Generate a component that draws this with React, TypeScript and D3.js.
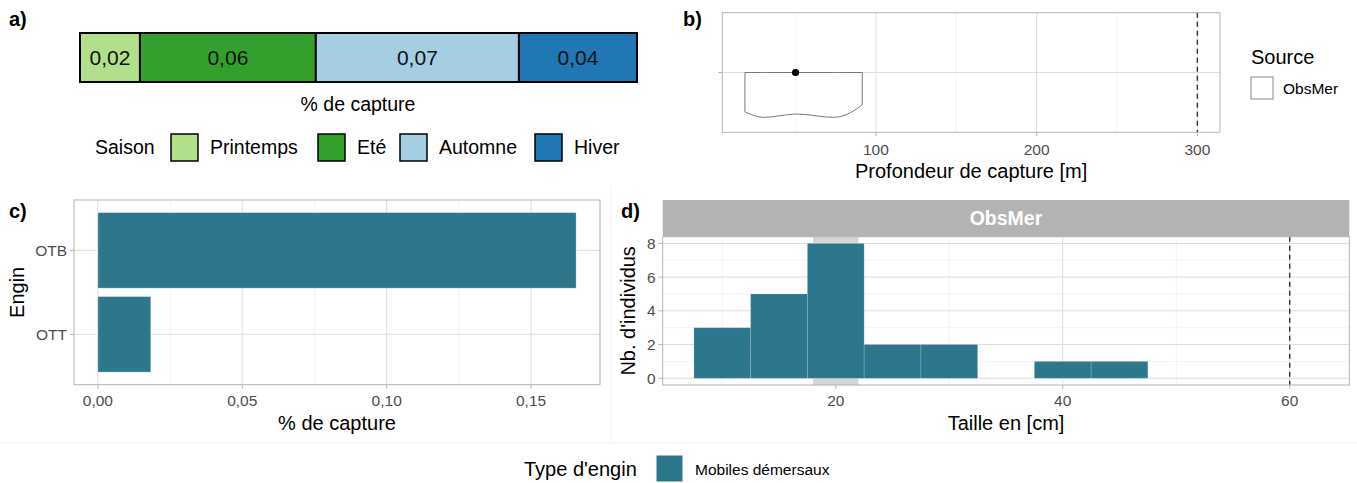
import React from "react";
import * as d3 from "d3";

const FONT = "'Liberation Sans', Arial, Helvetica, sans-serif";
const TEAL = "#2c778c";
const GRID_MAJ = "#dedede";
const GRID_MIN = "#ececec";
const BORDER = "#b3b3b3";
const TICK_TXT = "#4d4d4d";

// ---- Panel a data ----
const seasons = ["Printemps", "Eté", "Automne", "Hiver"];
const seasonValues = [0.0198, 0.0581, 0.0671, 0.039];
const seasonColors = ["#b2df8a", "#33a02c", "#a6cee3", "#1f78b4"];

// ---- Panel b data ----
const depthSource = "ObsMer";
const violinDepth = [18.5, 30, 50.9, 73.5, 81.5, 91.5];
const violinDensity = [0.88, 1.0, 0.926, 1.0, 0.94, 0.72];
const depthMedian = 50;
const depthRef = 300;
const depthTicks = [100, 200, 300];
const depthMinor = [50, 150, 250];

// ---- Panel c data ----
const engins = ["OTB", "OTT"];
const enginValues = [0.1656, 0.0183];
const enginTicks = [0, 0.05, 0.1, 0.15];
const enginMinor = [0.025, 0.075, 0.125];

// ---- Panel d data ----
const binStarts = [7.5, 12.5, 17.5, 22.5, 27.5, 32.5, 37.5, 42.5];
const binWidth = 5;
const binCounts = [3, 5, 8, 2, 2, 0, 1, 1];
const sizeRefRange = [18, 22];
const sizeRef = 60;
const sizeTicks = [20, 40, 60];
const sizeMinor = [10, 30, 50];
const countTicks = [0, 2, 4, 6, 8];
const countMinor = [1, 3, 5, 7];

const fmtComma = (v: number) => d3.format(".2f")(v).replace(".", ",");

function PanelA() {
  const total = d3.sum(seasonValues);
  const x = d3.scaleLinear().domain([0, total]).range([80, 637]);
  const cum = [0, ...Array.from(d3.cumsum(seasonValues))];
  const y0 = 33, y1 = 82;
  const keyX = [171, 318, 400, 535];
  return (
    <g>
      <text x={9} y={26} fontSize={20} fontWeight="bold" fontFamily={FONT}>a)</text>
      {seasons.map((s, i) => (
        <g key={s}>
          <rect x={x(cum[i])} y={y0} width={x(cum[i + 1]) - x(cum[i])} height={y1 - y0}
            fill={seasonColors[i]} stroke="#000" strokeWidth={2} />
          <text x={(x(cum[i]) + x(cum[i + 1])) / 2} y={(y0 + y1) / 2 + 7.5} textAnchor="middle"
            fontSize={21} fontFamily={FONT} fill="#111">{fmtComma(seasonValues[i])}</text>
        </g>
      ))}
      <text x={358} y={111} textAnchor="middle" fontSize={19.5} fontFamily={FONT}>% de capture</text>
      <text x={95} y={154} fontSize={19.5} fontFamily={FONT}>Saison</text>
      {seasons.map((s, i) => (
        <g key={"k" + s}>
          <rect x={keyX[i]} y={134} width={27} height={27} fill={seasonColors[i]} stroke="#000" strokeWidth={1.5} />
          <text x={keyX[i] + 39} y={154} fontSize={19.5} fontFamily={FONT}>{s}</text>
        </g>
      ))}
    </g>
  );
}

function PanelB() {
  const L = 722.3, R = 1220, T = 12.7, B = 132.3;
  const lo = violinDepth[0], hi = depthRef;
  const pad = (hi - lo) * 0.05;
  const x = d3.scaleLinear().domain([lo - pad, hi + pad]).range([L, R]);
  const y = d3.scaleLinear().domain([0.4, 1.6]).range([B, T]);
  const c = y(1);
  const half = y(1) - y(1.45);
  const area = d3.area<number>()
    .x((_, i) => x(violinDepth[i]))
    .y0(() => c)
    .y1((d) => c + d * half)
    .curve(d3.curveMonotoneX);
  return (
    <g>
      <text x={683} y={26} fontSize={20} fontWeight="bold" fontFamily={FONT}>b)</text>
      <rect x={L} y={T} width={R - L} height={B - T} fill="#fff" />
      {depthMinor.map((v) => <line key={"m" + v} x1={x(v)} x2={x(v)} y1={T} y2={B} stroke={GRID_MIN} strokeWidth={0.6} />)}
      {depthTicks.map((v) => <line key={"M" + v} x1={x(v)} x2={x(v)} y1={T} y2={B} stroke={GRID_MAJ} strokeWidth={1} />)}
      <line x1={L} x2={R} y1={c} y2={c} stroke={GRID_MAJ} strokeWidth={1} />
      <path d={area(violinDensity) || ""} fill="none" stroke="#6b6b6b" strokeWidth={0.9} />
      <circle cx={x(depthMedian)} cy={c} r={3.6} fill="#000" />
      <line x1={x(depthRef)} x2={x(depthRef)} y1={T} y2={B} stroke="#333" strokeWidth={1.4} strokeDasharray="5,4" />
      <rect x={L} y={T} width={R - L} height={B - T} fill="none" stroke={BORDER} strokeWidth={1} />
      <line x1={L - 4} x2={L} y1={c} y2={c} stroke={BORDER} />
      {depthTicks.map((v) => (
        <g key={"t" + v}>
          <line x1={x(v)} x2={x(v)} y1={B} y2={B + 4} stroke={BORDER} />
          <text x={x(v)} y={155} textAnchor="middle" fontSize={15.5} fill={TICK_TXT} fontFamily={FONT}>{v}</text>
        </g>
      ))}
      <text x={(L + R) / 2} y={178} textAnchor="middle" fontSize={20} fontFamily={FONT}>Profondeur de capture [m]</text>
      <text x={1251} y={64} fontSize={20} fontFamily={FONT}>Source</text>
      <rect x={1251} y={77} width={22} height={22} fill="#fff" stroke="#8c8c8c" strokeWidth={1} />
      <text x={1283} y={93.5} fontSize={15.5} fontFamily={FONT}>{depthSource}</text>
    </g>
  );
}

function PanelC() {
  const L = 74, R = 600, T = 200, B = 384.7;
  const mx = d3.max(enginValues) as number;
  const x = d3.scaleLinear().domain([-mx * 0.05, mx * 1.05]).range([L, R]);
  const y = d3.scaleLinear().domain([0.4, 2.6]).range([B, T]);
  const pos = (i: number) => engins.length - i;
  return (
    <g>
      <text x={9} y={218} fontSize={20} fontWeight="bold" fontFamily={FONT}>c)</text>
      {enginMinor.map((v) => <line key={"m" + v} x1={x(v)} x2={x(v)} y1={T} y2={B} stroke={GRID_MIN} strokeWidth={0.6} />)}
      {enginTicks.map((v) => <line key={"M" + v} x1={x(v)} x2={x(v)} y1={T} y2={B} stroke={GRID_MAJ} strokeWidth={1} />)}
      {engins.map((e, i) => <line key={"h" + e} x1={L} x2={R} y1={y(pos(i))} y2={y(pos(i))} stroke={GRID_MAJ} strokeWidth={1} />)}
      {engins.map((e, i) => (
        <rect key={e} x={x(0)} y={y(pos(i) + 0.45)} width={x(enginValues[i]) - x(0)} height={y(pos(i) - 0.45) - y(pos(i) + 0.45)}
          fill={TEAL} stroke="rgba(255,255,255,0.35)" strokeWidth={0.8} />
      ))}
      <rect x={L} y={T} width={R - L} height={B - T} fill="none" stroke={BORDER} strokeWidth={1} />
      {engins.map((e, i) => (
        <g key={"t" + e}>
          <line x1={L - 4} x2={L} y1={y(pos(i))} y2={y(pos(i))} stroke={BORDER} />
          <text x={L - 7} y={y(pos(i)) + 5.5} textAnchor="end" fontSize={15.5} fill={TICK_TXT} fontFamily={FONT}>{e}</text>
        </g>
      ))}
      {enginTicks.map((v) => (
        <g key={"x" + v}>
          <line x1={x(v)} x2={x(v)} y1={B} y2={B + 4} stroke={BORDER} />
          <text x={x(v)} y={406} textAnchor="middle" fontSize={15.5} fill={TICK_TXT} fontFamily={FONT}>{fmtComma(v)}</text>
        </g>
      ))}
      <text x={(L + R) / 2} y={430} textAnchor="middle" fontSize={20} fontFamily={FONT}>% de capture</text>
      <text transform={`translate(24,${(T + B) / 2}) rotate(-90)`} textAnchor="middle" fontSize={20} fontFamily={FONT}>Engin</text>
    </g>
  );
}

function PanelD() {
  const L = 662.7, R = 1349.3, ST = 200, T = 236.7, B = 385;
  const lo = binStarts[0], hi = binStarts[binStarts.length - 1] + binWidth * 4;
  const pad = (hi - lo) * 0.05;
  const x = d3.scaleLinear().domain([lo - pad, hi + pad]).range([L, R]);
  const mx = d3.max(binCounts) as number;
  const y = d3.scaleLinear().domain([-mx * 0.05, mx * 1.05]).range([B, T]);
  return (
    <g>
      <text x={621} y={218} fontSize={20} fontWeight="bold" fontFamily={FONT}>d)</text>
      <rect x={L} y={ST} width={R - L} height={T - ST} fill="#b3b3b3" />
      <text x={(L + R) / 2} y={225} textAnchor="middle" fontSize={19.5} fontWeight="bold" fill="#fff" fontFamily={FONT}>ObsMer</text>
      {sizeMinor.map((v) => <line key={"m" + v} x1={x(v)} x2={x(v)} y1={T} y2={B} stroke={GRID_MIN} strokeWidth={0.6} />)}
      {countMinor.map((v) => <line key={"cm" + v} x1={L} x2={R} y1={y(v)} y2={y(v)} stroke={GRID_MIN} strokeWidth={0.6} />)}
      {sizeTicks.map((v) => <line key={"M" + v} x1={x(v)} x2={x(v)} y1={T} y2={B} stroke={GRID_MAJ} strokeWidth={1} />)}
      {countTicks.map((v) => <line key={"cM" + v} x1={L} x2={R} y1={y(v)} y2={y(v)} stroke={GRID_MAJ} strokeWidth={1} />)}
      <rect x={x(sizeRefRange[0])} y={T} width={x(sizeRefRange[1]) - x(sizeRefRange[0])} height={B - T} fill="#d6d6d6" />
      {binStarts.map((s, i) => binCounts[i] > 0 && (
        <rect key={"b" + s} x={x(s)} y={y(binCounts[i])} width={x(s + binWidth) - x(s)} height={y(0) - y(binCounts[i])}
          fill={TEAL} stroke="rgba(255,255,255,0.18)" strokeWidth={0.8} />
      ))}
      <line x1={x(sizeRef)} x2={x(sizeRef)} y1={T} y2={B} stroke="#333" strokeWidth={1.4} strokeDasharray="5,4" />
      <rect x={L} y={T} width={R - L} height={B - T} fill="none" stroke={BORDER} strokeWidth={1} />
      {countTicks.map((v) => (
        <g key={"yt" + v}>
          <line x1={L - 4} x2={L} y1={y(v)} y2={y(v)} stroke={BORDER} />
          <text x={L - 7} y={y(v) + 5.5} textAnchor="end" fontSize={15.5} fill={TICK_TXT} fontFamily={FONT}>{v}</text>
        </g>
      ))}
      {sizeTicks.map((v) => (
        <g key={"xt" + v}>
          <line x1={x(v)} x2={x(v)} y1={B} y2={B + 4} stroke={BORDER} />
          <text x={x(v)} y={406} textAnchor="middle" fontSize={15.5} fill={TICK_TXT} fontFamily={FONT}>{v}</text>
        </g>
      ))}
      <text x={(L + R) / 2} y={430} textAnchor="middle" fontSize={20} fontFamily={FONT}>Taille en [cm]</text>
      <text transform={`translate(635,${(T + B) / 2}) rotate(-90)`} textAnchor="middle" fontSize={20} fontFamily={FONT}>Nb. d'individus</text>
    </g>
  );
}

function BottomLegend() {
  return (
    <g>
      <text x={524} y={476} fontSize={20} fontFamily={FONT}>Type d'engin</text>
      <rect x={656.5} y={455.5} width={26} height={26} fill={TEAL} />
      <text x={695} y={474.5} fontSize={15.5} fontFamily={FONT}>Mobiles démersaux</text>
    </g>
  );
}

export default function App() {
  return (
    <svg width={1357} height={483} style={{ position: "absolute", left: 0, top: 0, background: "#fff" }}>
      <rect width={1357} height={483} fill="#fff" />
      <line x1={611} x2={611} y1={186} y2={443} stroke="#f2f2f2" strokeWidth={1} />
      <line x1={0} x2={1357} y1={443} y2={443} stroke="#f2f2f2" strokeWidth={1} />
      <PanelA />
      <PanelB />
      <PanelC />
      <PanelD />
      <BottomLegend />
    </svg>
  );
}
